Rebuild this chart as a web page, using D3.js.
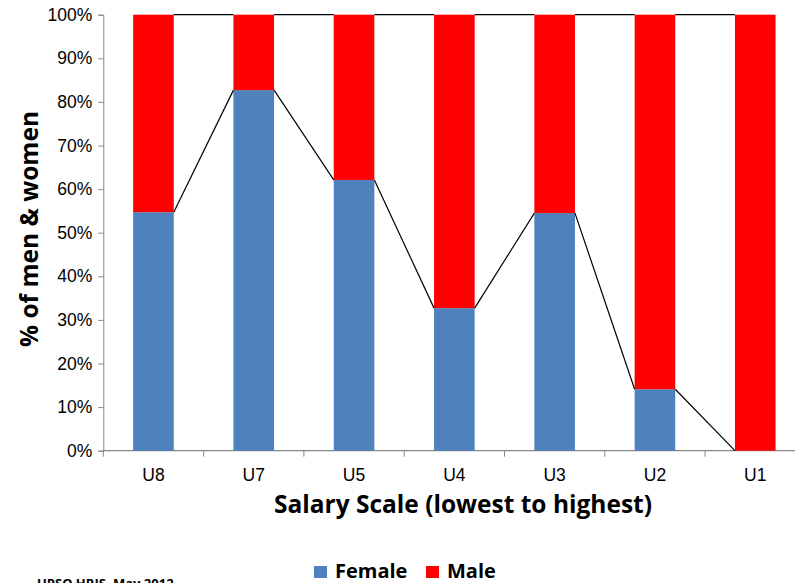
<!DOCTYPE html>
<html>
<head>
<meta charset="utf-8">
<script src="https://cdn.jsdelivr.net/npm/d3@7"></script>
<style>
  body { margin: 0; background: #fff; }
  svg { display: block; font-family: "Open Sans", Lato, sans-serif; }
</style>
</head>
<body>
<svg width="795" height="583"></svg>
<script>
// salary grades, lowest to highest
var grades = ["U8", "U7", "U5", "U4", "U3", "U2", "U1"];
var female = [0.547, 0.827, 0.621, 0.327, 0.545, 0.141, 0.0];
var male = [0.453, 0.173, 0.379, 0.673, 0.455, 0.859, 1.0];
var yTicks = [0, 0.1, 0.2, 0.3, 0.4, 0.5, 0.6, 0.7, 0.8, 0.9, 1.0];

var colors = { Female: "#4f81bd", Male: "#ff0000" };
var tickFont = "'Liberation Sans', Arial, sans-serif";

var svg = d3.select("svg");

var x = d3.scaleBand()
    .domain(grades)
    .range([103.3, 805.4])
    .paddingInner(0.595)
    .paddingOuter(0.2975);

var y = d3.scaleLinear()
    .domain([0, 1])
    .range([450.7, 14.7]);

// stack the two series
var rows = grades.map(function(g, i) { return { grade: g, Female: female[i], Male: male[i] }; });
var layers = d3.stack().keys(["Female", "Male"])(rows);

// y axis
var yAxis = svg.append("g")
    .attr("transform", "translate(103.3,0)")
    .call(d3.axisLeft(y).tickValues(yTicks).tickFormat(d3.format(".0%")).tickSize(5).tickPadding(6));
yAxis.select(".domain").attr("stroke", "#868686");
yAxis.selectAll(".tick line").attr("stroke", "#868686");
yAxis.selectAll("text").style("font-family", tickFont).style("font-size", "17.5px").attr("fill", "#000");

// x axis: line with ticks between categories
var xg = svg.append("g");
xg.append("line")
    .attr("x1", 103.3).attr("x2", 805.4)
    .attr("y1", y(0)).attr("y2", y(0))
    .attr("stroke", "#868686").attr("stroke-width", 1.2);
var step = x.step();
d3.range(grades.length + 1).forEach(function(i) {
    var xx = 103.3 + i * step;
    xg.append("line")
        .attr("x1", xx).attr("x2", xx)
        .attr("y1", y(0)).attr("y2", y(0) + 6)
        .attr("stroke", "#868686");
});
xg.selectAll("text.cat")
    .data(grades)
    .enter().append("text")
    .attr("class", "cat")
    .attr("x", function(d) { return x(d) + x.bandwidth() / 2; })
    .attr("y", 481)
    .attr("text-anchor", "middle")
    .style("font-family", tickFont)
    .style("font-size", "17.5px")
    .text(function(d) { return d; });

// bars
svg.append("g").selectAll("g")
    .data(layers)
    .enter().append("g")
    .attr("fill", function(d) { return colors[d.key]; })
    .selectAll("rect")
    .data(function(d) { return d; })
    .enter().append("rect")
    .attr("x", function(d) { return x(d.data.grade); })
    .attr("width", x.bandwidth())
    .attr("y", function(d) { return y(d[1]); })
    .attr("height", function(d) { return y(d[0]) - y(d[1]); });

// series lines joining the segment tops
var lines = svg.append("g").attr("stroke", "#000").attr("stroke-width", 1.2);
layers.forEach(function(layer) {
    for (var i = 0; i < layer.length - 1; i++) {
        lines.append("line")
            .attr("x1", x(grades[i]) + x.bandwidth())
            .attr("y1", y(layer[i][1]))
            .attr("x2", x(grades[i + 1]))
            .attr("y2", y(layer[i + 1][1]));
    }
});

// axis titles
svg.append("text")
    .attr("transform", "translate(38,229) rotate(-90)")
    .attr("text-anchor", "middle")
    .style("font-size", "24.5px")
    .style("font-weight", "bold")
    .text("% of men & women");

svg.append("text")
    .attr("x", 463)
    .attr("y", 513)
    .attr("text-anchor", "middle")
    .style("font-size", "24.5px")
    .style("font-weight", "bold")
    .text("Salary Scale (lowest to highest)");

// legend
var legend = svg.append("g");
[["Female", 314], ["Male", 426]].forEach(function(l) {
    legend.append("rect")
        .attr("x", l[1]).attr("y", 566)
        .attr("width", 13).attr("height", 12)
        .attr("fill", colors[l[0]]);
    legend.append("text")
        .attr("x", l[1] + 21).attr("y", 578)
        .style("font-size", "20px")
        .style("font-weight", "bold")
        .text(l[0]);
});

// source note, partly cut off at the bottom edge like the original
svg.append("text")
    .attr("x", 37).attr("y", 588)
    .style("font-size", "13px")
    .style("font-weight", "bold")
    .text("UPSO HRIS, May 2012");
</script>
</body>
</html>
